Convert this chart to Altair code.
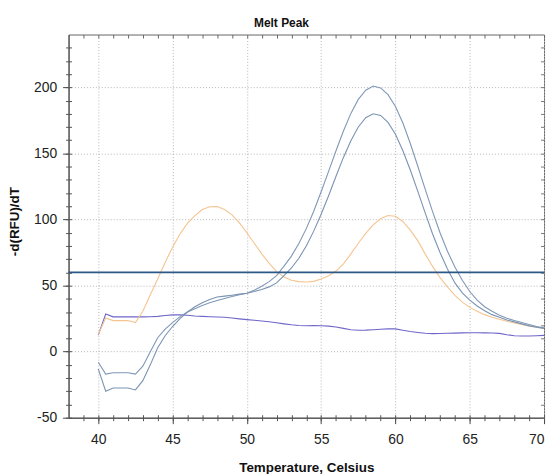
import altair as alt
import pandas as pd

temps = [40 + 0.5 * i for i in range(61)]

orange = [13, 25.5, 23.5, 23.5, 23.5, 22, 30.5, 43, 55, 67.5,
          79, 89, 97, 103, 107.5, 109.7, 109.8, 107.5, 103.5, 97.5,
          90, 82, 74, 67, 60.5, 56.5, 54, 53, 52.7, 53.2,
          55, 57.5, 61, 66.5, 74, 82, 89.5, 96, 100.5, 103,
          102.5, 98.5, 92, 84, 74, 64.5, 56, 49, 42.5, 37.5,
          33.5, 30.5, 28, 26, 24.5, 23, 21.7, 20.5, 19.5, 18.5, 17.5]

blue_a = [-8, -17, -16, -16, -16, -17, -11, 0, 10.5, 17,
          22, 26.5, 30, 32.5, 35, 37, 38.7, 40.2, 41.7, 43,
          44.2, 46.5, 49.5, 53, 57.5, 64.7, 72.3, 81.8, 93.1, 106.3,
          121, 136.4, 152, 167, 180.3, 190.9, 197.9, 201, 199.6, 194.5,
          185.5, 173, 157.5, 140.5, 123, 106, 90, 76, 64, 54,
          45.5, 39, 34, 30.5, 27.5, 25.3, 23.5, 22, 20.5, 19, 18]

blue_b = [-13, -30, -27.5, -27.5, -27.5, -29, -22, -10, 3, 12,
          19, 25, 30, 34, 37, 39.5, 41.4, 42, 42.7, 43.5,
          44.2, 45.5, 47, 49, 52, 57.6, 63.3, 70.7, 80, 91.2,
          104, 118, 132.7, 147, 159.6, 170, 177, 180, 178.8, 173.5,
          164.5, 152, 137.5, 121.5, 105, 89, 75, 62.5, 52, 44.5,
          39, 34.5, 31, 28, 26, 24, 22.5, 21, 19.5, 18.5, 17.5]

purple = [12.5, 28.5, 26.3, 26.3, 26.3, 26.3, 26.3, 26.4, 26.7, 27.3,
          27.8, 27.8, 27.5, 27, 26.7, 26.4, 26.2, 26, 25.5, 24.8,
          24.2, 23.7, 23.2, 22.6, 21.8, 21, 20.3, 19.8, 19.6, 19.7,
          19.6, 19.3, 18.6, 17.6, 16.6, 16.2, 16.3, 16.6, 16.9, 17.2,
          17.2, 16.2, 15.2, 14.5, 13.9, 13.6, 13.7, 13.9, 14, 14.2,
          14.3, 14.3, 14.2, 14.1, 13.8, 12.8, 12, 11.8, 11.8, 12, 12.3]

threshold = [60]

series_names = ["purple", "orange", "blueA", "blueB"]
series_vals = [purple, orange, blue_a, blue_b]
series_colors = ["#6f66c9", "#f5c490", "#7f98b6", "#7a93b2"]

rows = []
for name, vals in zip(series_names, series_vals):
    for t, v in zip(temps, vals):
        rows.append({"T": t, "v": v, "s": name})
df = pd.DataFrame(rows)
thr = pd.DataFrame({"y": threshold})

xdom = [38, 70]
ydom = [-50, 240]
font = "Liberation Sans"

xscale = alt.Scale(domain=xdom, nice=False, zero=False)
yscale = alt.Scale(domain=ydom, nice=False, zero=False)

major_x = [40, 45, 50, 55, 60, 65, 70]
major_y = [-50, 0, 50, 100, 150, 200]
minor_x = list(range(39, 71))
minor_y = list(range(-50, 240, 10))


def tick_axis(**kw):
    return alt.Axis(labels=False, title=None, grid=False, domain=False, **kw)


lines = alt.Chart(df).mark_line(strokeWidth=1.1).encode(
    x=alt.X("T:Q", scale=xscale,
            axis=alt.Axis(orient="bottom", values=major_x,
                          title="Temperature, Celsius",
                          grid=True, gridDash=[1, 2], gridColor="#b5b5b5",
                          tickSize=6, tickColor="#444", domainColor="#444",
                          labelFont=font, labelFontSize=14, labelColor="#222",
                          labelPadding=9, titleFont=font, titleFontSize=13.5,
                          titleFontWeight="bold", titleColor="#111",
                          titleY=50, titleBaseline="middle",
                          labelExpr="'' + datum.value")),
    y=alt.Y("v:Q", scale=yscale,
            axis=alt.Axis(orient="left", values=major_y, title="-d(RFU)/dT",
                          grid=True, gridDash=[1, 2], gridColor="#b5b5b5",
                          tickSize=6, tickColor="#444", domainColor="#444",
                          labelFont=font, labelFontSize=14, labelColor="#222",
                          labelPadding=6, titleFont=font, titleFontSize=13.5,
                          titleFontWeight="bold", titleColor="#111",
                          titleX=-54, titleY=188, titleBaseline="middle",
                          labelExpr="'' + datum.value")),
    color=alt.Color("s:N", scale=alt.Scale(domain=series_names, range=series_colors),
                    legend=None),
    detail="s:N",
)

minor1 = alt.Chart(df).mark_point(opacity=0).encode(
    x=alt.X("T:Q", scale=xscale,
            axis=tick_axis(orient="bottom", values=minor_x, tickSize=6, offset=-3,
                           tickColor="#555")),
    y=alt.Y("v:Q", scale=yscale,
            axis=tick_axis(orient="left", values=minor_y, tickSize=6, offset=-3,
                           tickColor="#555")),
)

minor2 = alt.Chart(df).mark_point(opacity=0).encode(
    x=alt.X("T:Q", scale=xscale,
            axis=tick_axis(orient="top", values=minor_x, tickSize=3.5, offset=-3.5,
                           tickColor="#666")),
    y=alt.Y("v:Q", scale=yscale,
            axis=tick_axis(orient="right", values=minor_y, tickSize=3.5, offset=-3.5,
                           tickColor="#777")),
)

thr_rule = alt.Chart(thr).mark_rule(color="#2b5886", strokeWidth=1.6).encode(
    y=alt.Y("y:Q", scale=yscale, axis=None)
)

chart = alt.layer(lines, minor1, minor2, thr_rule).resolve_axis(
    x="independent", y="independent"
).properties(
    width=479, height=386,
    title=alt.TitleParams("Melt Peak", font=font, fontSize=12, fontWeight="bold",
                          color="#111", anchor="middle", dx=-25, offset=4),
    autosize=alt.AutoSizeParams(type="none"),
    padding={"left": 61, "top": 25, "right": 5, "bottom": 55},
).configure_view(stroke="#666", strokeWidth=1)

chart.save("out.html", embed_options={"renderer": "svg", "actions": False})
